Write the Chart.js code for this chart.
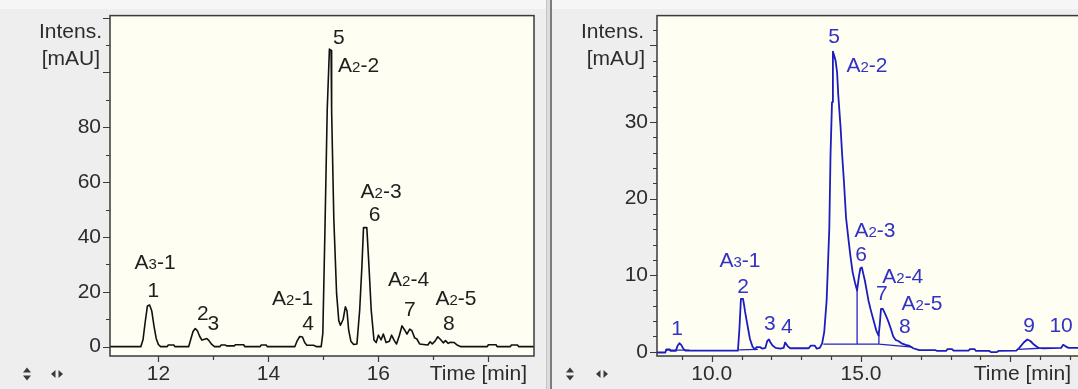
<!DOCTYPE html>
<html>
<head>
<meta charset="utf-8">
<title>Chromatograms</title>
<script src="https://cdn.jsdelivr.net/npm/chart.js@4/dist/chart.umd.min.js"></script>
<style>
  html, body { margin: 0; padding: 0; width: 1078px; height: 389px; overflow: hidden; background: #eeeeee; }
  .band { position: absolute; left: 0; top: 0; width: 1078px; height: 9px; background: #f6f6f6; }
  canvas { position: absolute; top: 0; }
  #leftChart { left: 0; }
  #rightChart { left: 553px; }
  .splitter { position: absolute; top: 0; left: 546px; width: 3px; height: 389px;
              background: #dcdcdc; border-left: 1px solid #c4c4c4; border-right: 2px solid #7c7c7c; }
</style>
</head>
<body>
<div class="band"></div>
<canvas id="leftChart" width="545" height="389"></canvas>
<div class="splitter"></div>
<canvas id="rightChart" width="540" height="389"></canvas>
<script>
// ---- black trace (left run) ----
const leftTime = [
  11.12, 11.68, 11.72, 11.76, 11.80, 11.84, 11.88, 11.92, 11.96, 12.00, 12.04,
  12.16, 12.18, 12.28, 12.30, 12.55, 12.59, 12.63, 12.67, 12.71, 12.75, 12.79,
  12.84, 12.88, 12.92, 12.97, 13.02, 13.12, 13.14, 13.22, 13.24, 13.38, 13.40,
  13.55, 13.57, 13.85, 13.87, 13.96, 13.98, 14.48, 14.52, 14.57, 14.62, 14.66,
  14.70, 14.82, 14.88, 14.96, 14.99, 15.03, 15.07, 15.11, 15.14, 15.15, 15.19,
  15.24, 15.28, 15.31, 15.36, 15.40, 15.43, 15.46, 15.50, 15.55, 15.61, 15.66,
  15.70, 15.73, 15.79, 15.83, 15.87, 15.92, 15.96, 16.00, 16.05, 16.09, 16.14,
  16.20, 16.24, 16.29, 16.33, 16.38, 16.43, 16.48, 16.52, 16.57, 16.61, 16.66,
  16.70, 16.75, 16.82, 16.90, 16.94, 16.98, 17.03, 17.08, 17.13, 17.18, 17.22,
  17.27, 17.31, 17.38, 17.44, 17.50, 17.98, 18.00, 18.14, 18.16, 18.40, 18.42,
  18.53, 18.55, 18.83
];
const leftIntensity = [
  0, 0, 2.5, 9.0, 14.8, 15.2, 13.0, 7.5, 3.0, 0.8, 0,
  0, 0.6, 0.6, 0, 0, 2.8, 5.5, 6.6, 5.8, 3.8, 2.4,
  2.7, 3.0, 2.2, 0.8, 0, 0, 0.6, 0.6, 0.3, 0.3, 0.7,
  0.7, 0, 0, 0.6, 0.6, 0, 0, 2.0, 3.7, 3.5, 1.5,
  0.5, 0.5, 0, 0, 4.8, 44.0, 86.5, 108.5, 108.0, 86.0, 46.5,
  19.5, 9.5, 7.8, 10.0, 14.5, 13.0, 6.0, 2.0, 0.8, 1.0, 13.3,
  29.0, 43.4, 43.4, 29.0, 13.3, 2.4, 1.5, 4.2, 2.5, 4.6, 1.5,
  2.0, 4.2, 2.2, 1.0, 4.0, 7.6, 6.0, 4.6, 6.4, 5.8, 3.2,
  2.8, 1.0, 0.8, 0.6, 1.8, 1.0, 2.0, 3.6, 2.6, 1.4, 2.2,
  1.2, 1.6, 1.5, 0.5, 0, 0, 0.7, 0.7, 0, 0, 0.6,
  0.6, 0, 0
];

// ---- blue trace (right run) ----
const rightTime = [
  8.17, 8.45, 8.48, 8.60, 8.63, 8.80, 8.85, 8.92, 8.98, 9.05, 9.12,
  10.88, 10.93, 10.98, 11.05, 11.09, 11.12, 11.17, 11.23, 11.28, 11.37, 11.45,
  11.50, 11.62, 11.70, 11.80, 11.86, 11.92, 11.97, 12.04, 12.14, 12.30, 12.41,
  12.46, 12.55, 12.63, 13.25, 13.32, 13.45, 13.52, 13.62, 13.70, 13.77, 13.85,
  13.94, 13.98, 14.03, 14.06, 14.11, 14.15, 14.20, 14.24, 14.32, 14.37, 14.43,
  14.50, 14.58, 14.65, 14.72, 14.80, 14.87, 14.93, 14.98, 15.03, 15.07, 15.13,
  15.19, 15.25, 15.33, 15.42, 15.51, 15.59, 15.63, 15.67, 15.73, 15.79, 15.86,
  15.93, 16.00, 16.08, 16.17, 16.25, 16.36, 16.50, 16.60, 16.75, 16.95, 17.50,
  17.55, 17.85, 17.90, 18.05, 18.10, 18.60, 18.65, 18.80, 18.85, 19.30, 19.35,
  19.55, 19.60, 20.20, 20.30, 20.45, 20.57, 20.67, 20.80, 20.95, 21.10, 21.70,
  21.77, 21.85, 21.95, 22.30
];
const rightIntensity = [
  -0.1, -0.1, 0.3, 0.3, 0.1, 0.1, 0.7, 1.1, 0.9, 0.4, 0.15,
  0.15, 3.0, 6.9, 6.9, 6.0, 5.2, 4.1, 2.8, 1.7, 0.65, 0.3,
  0.6, 0.6, 0.4, 0.5, 1.4, 1.6, 1.2, 0.8, 0.5, 0.4, 0.5,
  1.2, 0.7, 0.45, 0.45, 0.8, 0.8, 0.4, 0.5, 1.1, 2.6, 6.7,
  16.2, 25.7, 32.6, 39.2, 38.6, 38.0, 36.5, 33.5, 29.1, 25.7, 22.2,
  17.5, 14.7, 12.4, 10.4, 9.0, 8.0, 9.8, 10.9, 11.0, 10.3, 9.3,
  8.0, 6.7, 5.4, 4.1, 2.8, 2.1, 3.6, 5.6, 5.6, 5.1, 4.5,
  3.8, 3.0, 2.0, 1.5, 1.4, 1.1, 0.9, 0.8, 0.45, 0.2, 0.2,
  0.1, 0.1, 0.35, 0.35, 0.15, 0.15, 0.35, 0.35, 0.1, 0.1, -0.05,
  -0.05, 0.1, 0.15, 0.5, 1.2, 1.6, 1.4, 0.9, 0.5, 0.45, 0.5,
  0.9, 0.7, 0.5, 0.5
];

// integration baselines and drop lines of the blue run (null breaks a segment)
const rightBaseTime  = [8.45, 9.25, 9.25, 10.92, 11.55, 11.55,
                        13.74, 14.87, 14.87, 14.87, 15.60, 15.60, 15.60, 16.72, 16.72,
                        20.28, 20.98];
const rightBaseValue = [0.2, 0.2, null, 0.25, 0.3, null,
                        1.0, 1.0, 8.0, 1.0, 1.0, 2.2, 1.0, 0.6, null,
                        0.3, 0.45];

// ---- peak annotations ----
const leftPeakText  = ['A3-1', '1', '2', '3', 'A2-1', '4', '5', 'A2-2', 'A2-3', '6', 'A2-4', '7', 'A2-5', '8'];
const leftPeakTime  = [11.94, 11.91, 12.81, 13.00, 14.44, 14.72, 15.28, 15.64, 16.05, 15.93, 16.55, 16.57, 17.41, 17.28];
const leftPeakLevel = [31.0, 21.0, 12.5, 9.0, 18.0, 9.0, 113.0, 103.0, 57.0, 48.5, 25.0, 14.0, 18.0, 9.0];

const rightPeakText  = ['1', 'A3-1', '2', '3', '4', '5', 'A2-2', 'A2-3', '6', 'A2-4', '7', 'A2-5', '8', '9', '10'];
const rightPeakTime  = [8.84, 10.95, 11.05, 11.95, 12.52, 14.10, 15.20, 15.47, 15.00, 16.40, 15.70, 17.04, 16.47, 20.63, 21.70];
const rightPeakLevel = [3.2, 12.1, 8.6, 3.8, 3.4, 41.3, 37.5, 15.9, 12.8, 10.0, 7.7, 6.4, 3.4, 3.6, 3.6];

// ---- axes ----
const leftXRange = [11.12, 18.83];
const leftYRange = [-3.4, 120.7];
const leftXTicks = [12, 13, 14, 15, 16, 17, 18];
const leftXTickLabels = ['12', '', '14', '', '16', '', ''];
const leftXMajor = [12, 14, 16, 18];
const leftYTicks = [0, 10, 20, 30, 40, 50, 60, 70, 80, 90, 100, 110, 120];
const leftYTickLabels = ['0', '', '20', '', '40', '', '60', '', '80', '', '', '', ''];
const leftYMajor = [0, 20, 40, 60, 80, 100, 120];

const rightXRange = [8.17, 22.3];
const rightYRange = [-0.56, 43.9];
const rightXTicks = [9, 10, 11, 12, 13, 14, 15, 16, 17, 18, 19, 20, 21, 22];
const rightXTickLabels = ['', '10.0', '', '', '', '', '15.0', '', '', '', '', '', '', ''];
const rightXMajor = [10, 15, 20];
const rightYTicks = [0, 2, 4, 6, 8, 10, 12, 14, 16, 18, 20, 22, 24, 26, 28, 30, 32, 34, 36, 38, 40, 42];
const rightYTickLabels = ['0', '', '', '', '', '10', '', '', '', '', '20', '', '', '', '', '30', '', '', '', '', '', ''];
const rightYMajor = [0, 10, 20, 30, 40];

const FONT = '"Liberation Sans", Arial, sans-serif';
const TEXT = '#2c2c2c';

const zip = (xs, ys) => xs.map((x, i) => ({ x, y: ys[i] }));

function triangle(ctx, pts) {
  ctx.beginPath();
  ctx.moveTo(pts[0], pts[1]); ctx.lineTo(pts[2], pts[3]); ctx.lineTo(pts[4], pts[5]);
  ctx.closePath(); ctx.fill();
}

// label such as "A2-3": the digit after the A is set smaller
function drawPeakLabel(ctx, text, cx, cy, color) {
  const big = 21, small = 15;
  const m = /^A(\d)(-\d+)$/.exec(text);
  const runs = m ? [['A', big], [m[1], small], [m[2], big]] : [[text, big]];
  let w = 0;
  runs.forEach(r => { ctx.font = r[1] + 'px ' + FONT; r.push(ctx.measureText(r[0]).width); w += r[2]; });
  let x = cx - w / 2;
  const base = cy + big * 0.716 / 2;
  ctx.fillStyle = color;
  ctx.textAlign = 'left';
  ctx.textBaseline = 'alphabetic';
  runs.forEach(r => { ctx.font = r[1] + 'px ' + FONT; ctx.fillText(r[0], x, base); x += r[2]; });
}

function decor(cfg) {
  return {
    id: 'decor',
    beforeDraw(chart) {
      const { ctx, chartArea: a } = chart;
      ctx.save();
      ctx.fillStyle = '#fefef2';
      ctx.fillRect(a.left, a.top, a.right - a.left, a.bottom - a.top);
      ctx.restore();
    },
    afterDraw(chart) {
      const { ctx, chartArea: a } = chart;
      const xs = chart.scales.x, ys = chart.scales.y;
      ctx.save();
      // frame of the plot area
      ctx.strokeStyle = '#3a3a3a';
      ctx.lineWidth = 1.5;
      ctx.strokeRect(a.left, a.top, a.right - a.left, a.bottom - a.top);
      // tick marks, major ones longer
      ctx.lineWidth = 1.2;
      ctx.beginPath();
      cfg.xTicks.forEach(v => {
        const px = Math.round(xs.getPixelForValue(v)) + 0.5;
        const len = cfg.xMajor.includes(v) ? 6 : 4;
        ctx.moveTo(px, a.bottom); ctx.lineTo(px, a.bottom + len);
      });
      cfg.yTicks.forEach(v => {
        const py = Math.round(ys.getPixelForValue(v)) + 0.5;
        const len = cfg.yMajor.includes(v) ? 7 : 4;
        ctx.moveTo(a.left, py); ctx.lineTo(a.left - len, py);
      });
      ctx.stroke();
      // axis titles
      ctx.fillStyle = TEXT;
      ctx.font = '21px ' + FONT;
      ctx.textAlign = 'right';
      ctx.textBaseline = 'middle';
      ctx.fillText('Intens.', a.left + cfg.titleDx[0], 32);
      ctx.fillText('[mAU]', a.left + cfg.titleDx[1], 59);
      ctx.fillText('Time [min]', a.right - cfg.timeDx, a.bottom + 18);
      // zoom/scroll handles
      ctx.fillStyle = '#3a3a3a';
      const iy = a.bottom + 18;
      const i1 = a.left + cfg.iconDx[0], i2 = a.left + cfg.iconDx[1];
      triangle(ctx, [i1 - 4, iy - 1.5, i1 + 4, iy - 1.5, i1, iy - 6.5]);
      triangle(ctx, [i1 - 4, iy + 1.5, i1 + 4, iy + 1.5, i1, iy + 6.5]);
      triangle(ctx, [i2 - 1.5, iy - 4, i2 - 1.5, iy + 4, i2 - 6, iy]);
      triangle(ctx, [i2 + 1.5, iy - 4, i2 + 1.5, iy + 4, i2 + 6, iy]);
      // peak labels
      cfg.peakText.forEach((t, i) => {
        drawPeakLabel(ctx, t, xs.getPixelForValue(cfg.peakTime[i]), ys.getPixelForValue(cfg.peakLevel[i]), cfg.labelColor);
      });
      ctx.restore();
    }
  };
}

function buildChart(id, cfg) {
  return new Chart(document.getElementById(id), {
    type: 'line',
    data: { datasets: cfg.datasets },
    options: {
      responsive: false,
      animation: false,
      devicePixelRatio: 1,
      events: [],
      layout: { padding: { left: 0, right: cfg.padRight, top: 13, bottom: 0 } },
      plugins: { legend: { display: false }, tooltip: { enabled: false } },
      elements: { point: { radius: 0 }, line: { tension: 0, borderJoinStyle: 'round' } },
      scales: {
        x: {
          type: 'linear',
          min: cfg.xRange[0], max: cfg.xRange[1],
          afterFit: s => { s.height = 33; },
          afterBuildTicks: s => { s.ticks = cfg.xTicks.map(v => ({ value: v })); },
          ticks: {
            autoSkip: false, maxRotation: 0, padding: 0, color: TEXT,
            font: { family: FONT, size: 21 },
            callback: (v, i) => cfg.xTickLabels[i]
          },
          grid: { display: false, drawTicks: true, tickLength: 6 },
          border: { display: false }
        },
        y: {
          type: 'linear',
          min: cfg.yRange[0], max: cfg.yRange[1],
          afterFit: s => { s.width = cfg.axisWidth; },
          afterBuildTicks: s => { s.ticks = cfg.yTicks.map(v => ({ value: v })); },
          ticks: {
            autoSkip: false, padding: 3, color: TEXT,
            font: { family: FONT, size: 21 },
            callback: (v, i) => cfg.yTickLabels[i]
          },
          grid: { display: false, drawTicks: true, tickLength: 6 },
          border: { display: false }
        }
      }
    },
    plugins: [decor(cfg)]
  });
}

buildChart('leftChart', {
  datasets: [{
    data: zip(leftTime, leftIntensity),
    borderColor: '#111111', borderWidth: 1.6
  }],
  padRight: 11, axisWidth: 110,
  xRange: leftXRange, yRange: leftYRange,
  xTicks: leftXTicks, xTickLabels: leftXTickLabels, xMajor: leftXMajor,
  yTicks: leftYTicks, yTickLabels: leftYTickLabels, yMajor: leftYMajor,
  titleDx: [-8, -10], timeDx: 7, iconDx: [-83, -53],
  peakText: leftPeakText, peakTime: leftPeakTime, peakLevel: leftPeakLevel,
  labelColor: '#1e1e1e'
});

buildChart('rightChart', {
  datasets: [{
    data: zip(rightTime, rightIntensity),
    borderColor: '#1c1cc0', borderWidth: 1.8
  }, {
    data: zip(rightBaseTime, rightBaseValue),
    borderColor: '#2424c4', borderWidth: 1.3, spanGaps: false
  }],
  padRight: 14, axisWidth: 104,
  xRange: rightXRange, yRange: rightYRange,
  xTicks: rightXTicks, xTickLabels: rightXTickLabels, xMajor: rightXMajor,
  yTicks: rightYTicks, yTickLabels: rightYTickLabels, yMajor: rightYMajor,
  titleDx: [-13, -12], timeDx: 8, iconDx: [-87, -55],
  peakText: rightPeakText, peakTime: rightPeakTime, peakLevel: rightPeakLevel,
  labelColor: '#3232c4'
});
</script>
</body>
</html>
